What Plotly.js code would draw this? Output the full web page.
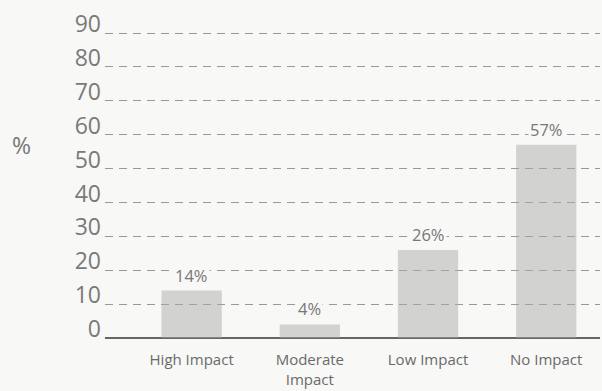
<!DOCTYPE html>
<html>
<head>
<meta charset="utf-8">
<script src="https://cdn.plot.ly/plotly-3.0.1.min.js"></script>
<style>html,body{margin:0;padding:0;background:#f8f8f6;}#chart{width:602px;height:391px;}</style>
</head>
<body>
<div id="chart"></div>
<script>
var categories = ["High Impact", "Moderate<br>Impact", "Low Impact", "No Impact"];
var values = [14, 4, 26, 57];
var valueLabels = ["14%", "4%", "26%", "57%"];
var yTicks = [0, 10, 20, 30, 40, 50, 60, 70, 80, 90];

var bg = "#f8f8f6";
var trace = {
  type: "bar",
  x: categories,
  y: values,
  width: 0.51,
  marker: {color: "rgba(170,170,170,0.48)", line: {width: 0}},
  hoverinfo: "none"
};

var annotations = categories.map(function (c, i) {
  return {
    x: c, y: values[i], xref: "x", yref: "y",
    text: valueLabels[i], showarrow: false,
    yanchor: "bottom", yshift: 2,
    font: {family: "Open Sans, sans-serif", size: 16.5, color: "#777"},
    bgcolor: bg, borderpad: 1
  };
});
annotations.push({
  xref: "paper", yref: "paper", x: -0.168, y: 0.63,
  xanchor: "center", yanchor: "middle",
  text: "%", showarrow: false,
  font: {family: "Open Sans, sans-serif", size: 23, color: "#777"}
});

var layout = {
  width: 602, height: 391,
  margin: {l: 105, r: 2, t: 31, b: 53},
  paper_bgcolor: bg, plot_bgcolor: bg,
  showlegend: false,
  xaxis: {
    type: "category",
    range: [-0.733, 3.455],
    showgrid: false, zeroline: false,
    showline: false, ticks: "",
    tickfont: {family: "Open Sans, sans-serif", size: 15, color: "#6a6a6a"},
    ticklabelstandoff: 11
  },
  yaxis: {
    range: [0, 90.6],
    tickvals: yTicks,
    showgrid: true, gridcolor: "#999", gridwidth: 1, griddash: "8px,6px",
    zeroline: true, zerolinecolor: "#666", zerolinewidth: 1.5,
    showline: false, ticks: "",
    tickfont: {family: "Open Sans, sans-serif", size: 23, color: "#7a7a7a"},
    ticklabelshift: -9,
    ticklabelstandoff: 3
  },
  annotations: annotations
};

Plotly.newPlot("chart", [trace], layout, {displayModeBar: false, staticPlot: true});
</script>
</body>
</html>
